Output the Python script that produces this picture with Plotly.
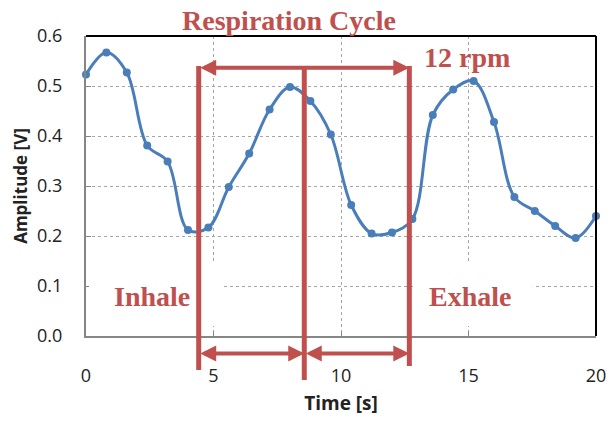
import plotly.graph_objects as go

# ---- data ----
time_s = [0.0, 0.8, 1.6, 2.4, 3.2, 4.0, 4.8, 5.6, 6.4, 7.2, 8.0, 8.8, 9.6,
          10.4, 11.2, 12.0, 12.8, 13.6, 14.4, 15.2, 16.0, 16.8, 17.6, 18.4,
          19.2, 20.0]
amplitude_v = [0.523, 0.567, 0.527, 0.381, 0.349, 0.212, 0.217, 0.298,
               0.365, 0.453, 0.498, 0.470, 0.403, 0.262, 0.205, 0.207,
               0.234, 0.442, 0.493, 0.510, 0.428, 0.278, 0.250, 0.220,
               0.196, 0.240]
x_ticks = [0, 5, 10, 15, 20]
y_ticks = [0.0, 0.1, 0.2, 0.3, 0.4, 0.5, 0.6]

# cycle markers (time in s)
cycle_start = 4.42
cycle_mid = 8.56
cycle_end = 12.68

RED = "#C0504D"
BLUE = "#4A7EBB"
SERIF = "Liberation Serif, Times New Roman, serif"
SANS = "Open Sans, Lato, sans-serif"

fig = go.Figure()
fig.add_trace(go.Scatter(
    x=time_s, y=amplitude_v, mode="lines+markers",
    line=dict(color=BLUE, width=3, shape="spline", smoothing=1.0),
    marker=dict(color=BLUE, size=8),
    showlegend=False, cliponaxis=False, hoverinfo="skip",
))

shapes = []
# white boxes behind Inhale / Exhale text (hide grid)
shapes.append(dict(type="rect", xref="paper", yref="paper",
                   x0=0.006, x1=0.266, y0=0.033, y1=0.247,
                   fillcolor="white", line=dict(width=0), layer="above"))
shapes.append(dict(type="rect", xref="paper", yref="paper",
                   x0=0.645, x1=0.876, y0=0.033, y1=0.247,
                   fillcolor="white", line=dict(width=0), layer="above"))
# top and right black border
shapes.append(dict(type="line", xref="paper", yref="paper", x0=0, x1=1, y0=1, y1=1,
                   line=dict(color="black", width=2), layer="above"))
shapes.append(dict(type="line", xref="paper", yref="paper", x0=1, x1=1, y0=0, y1=1,
                   line=dict(color="black", width=2), layer="above"))
# vertical red lines
for xv, ytop, ybot in [(cycle_start, 0.9, -0.113), (cycle_mid, 0.893, -0.147),
                       (cycle_end, 0.9, -0.1)]:
    shapes.append(dict(type="line", xref="x", yref="paper", x0=xv, x1=xv,
                       y0=ybot, y1=ytop, line=dict(color=RED, width=5),
                       layer="above"))

annotations = []
# double arrows
for x_a, x_b, yv in [(cycle_start, cycle_end, 0.894),
                     (cycle_start, cycle_mid, -0.058),
                     (cycle_mid, cycle_end, -0.058)]:
    annotations.append(dict(
        x=x_b, y=yv, xref="x", yref="paper",
        ax=x_a, ay=0, axref="x", ayref="pixel",
        text="", showarrow=True, arrowside="end+start",
        arrowhead=2, arrowsize=0.8, arrowwidth=4, arrowcolor=RED,
        standoff=0, startstandoff=0, font=dict(size=1),
    ))

label_font = dict(family=SERIF, size=28, color=RED, weight="bold")
for txt, xp, yp in [("Respiration Cycle", 0.398, 1.053),
                    ("12 rpm", 0.748, 0.928),
                    ("Inhale", 0.129, 0.132),
                    ("Exhale", 0.752, 0.132)]:
    annotations.append(dict(text="<b>%s</b>" % txt, xref="paper", yref="paper",
                            x=xp, y=yp, xanchor="center", yanchor="middle",
                            showarrow=False, font=label_font))

fig.update_layout(
    width=609, height=421,
    margin=dict(l=86, r=13, t=36, b=85),
    paper_bgcolor="white", plot_bgcolor="white",
    shapes=shapes, annotations=annotations,
    font=dict(family=SANS, size=18, color="#222222"),
    hovermode=False,
)
fig.update_xaxes(
    range=[0, 20], tickvals=x_ticks, ticktext=[str(v) for v in x_ticks],
    showgrid=True, gridcolor="#a6a6a6", griddash="dot", gridwidth=1,
    showline=True, linecolor="#868686", linewidth=2,
    ticks="inside", ticklen=5, tickcolor="#868686",
    ticklabelstandoff=22, zeroline=False, automargin=False,
    tickfont=dict(family=SANS, size=18, color="#222222"),
    title=dict(text="<b>Time [s]</b>", font=dict(family=SANS, size=19, color="#222222"),
               standoff=11),
)
fig.update_yaxes(
    range=[0, 0.6], tickvals=y_ticks, tickformat=".1f",
    showgrid=True, gridcolor="#a6a6a6", griddash="dot", gridwidth=1,
    showline=True, linecolor="#868686", linewidth=2,
    ticks="inside", ticklen=5, tickcolor="#868686",
    ticklabelstandoff=18, zeroline=False, automargin=False,
    tickfont=dict(family=SANS, size=18, color="#222222"),
    title=dict(text="<b>Amplitude [V]</b>", font=dict(family=SANS, size=17, color="#222222"),
               standoff=5),
)

fig.write_html("out.html", config={"displayModeBar": False, "staticPlot": True},
               post_script="document.body.style.margin='0';document.body.style.padding='0';")
